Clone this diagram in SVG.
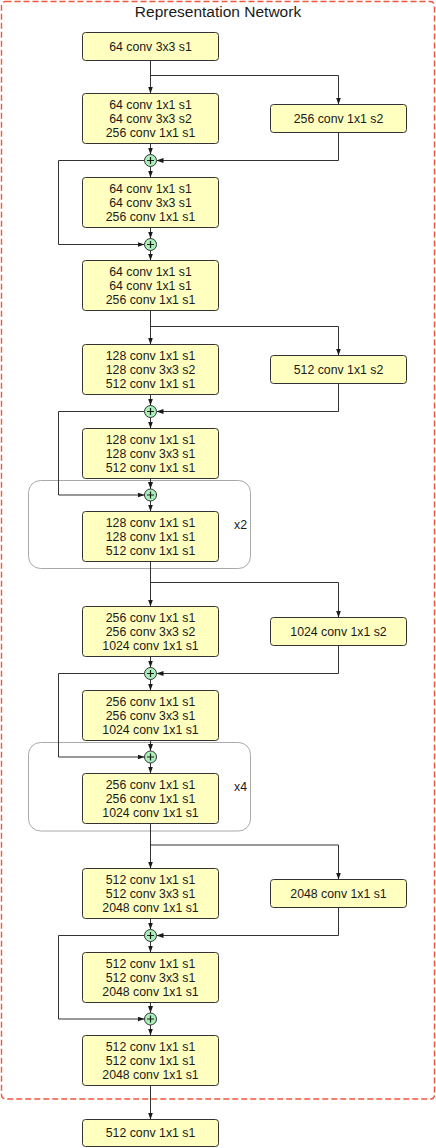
<svg xmlns="http://www.w3.org/2000/svg" width="436" height="1148" viewBox="0 0 436 1148">
<style>
.box{fill:#ffffbf;stroke:#333;stroke-width:1}
.t{font-family:"Liberation Sans",Arial,sans-serif;font-size:12.3px;fill:#1a1a1a;text-anchor:middle}
.c{fill:none;stroke:#333;stroke-width:1}
.a{marker-end:url(#ah)}
.plus circle{fill:#a8f0b8;stroke:#333;stroke-width:1}
.plus path{stroke:#1a1a1a;stroke-width:1.2;fill:none}
.rep{fill:none;stroke:#aaa;stroke-width:1}
</style>
<defs>
<marker id="ah" viewBox="0 0 7 5" refX="7" refY="2.5" markerWidth="7" markerHeight="5" markerUnits="userSpaceOnUse" orient="auto">
<path d="M0,0 L7,2.5 L0,5 z" fill="#1a1a1a"/>
</marker>
</defs>
<rect x="1.5" y="1.5" width="433" height="1097.5" rx="4" fill="none" stroke="#f4553b" stroke-width="1.4" stroke-dasharray="6 3"/>
<text x="218" y="16.5" style="font-family:'Liberation Sans',Arial,sans-serif;font-size:15.5px;fill:#1a1a1a;text-anchor:middle">Representation Network</text>

<g id="repeat-x2"><rect class="rep" x="28.5" y="480.5" width="222" height="88" rx="12"/><text class="t" x="240.5" y="529">x2</text></g>
<g id="repeat-x4"><rect class="rep" x="28.5" y="742.5" width="222" height="88.5" rx="12"/><text class="t" x="240.5" y="791">x4</text></g>

<g id="connectors">
<path class="c a" d="M150.5 60.5V93.5"/>
<path class="c a" d="M150.5 75.5H338.5V104.5"/>
<path class="c a" d="M150.5 143.5V154.5"/>
<path class="c a" d="M338.5 132.5V160.5H156.5"/>
<path class="c a" d="M150.5 166.5V177.5"/>
<path class="c a" d="M144.5 160.5H58.5V244.5H144.5"/>
<path class="c a" d="M150.5 227.5V238.5"/>
<path class="c a" d="M150.5 250.5V260.5"/>
<path class="c a" d="M150.5 310.5V344.5"/>
<path class="c a" d="M150.5 326.5H338.5V355.5"/>
<path class="c a" d="M150.5 394.5V405.5"/>
<path class="c a" d="M338.5 383.5V411.5H156.5"/>
<path class="c a" d="M150.5 417.5V428.5"/>
<path class="c a" d="M144.5 411.5H58.5V495H144.5"/>
<path class="c a" d="M150.5 478.5V489"/>
<path class="c a" d="M150.5 501V511.5"/>
<path class="c a" d="M150.5 561.5V606.5"/>
<path class="c a" d="M150.5 582.5H338.5V617.5"/>
<path class="c a" d="M150.5 656.5V667.5"/>
<path class="c a" d="M338.5 645.5V673.5H156.5"/>
<path class="c a" d="M150.5 679.5V690.5"/>
<path class="c a" d="M144.5 673.5H58.5V757H144.5"/>
<path class="c a" d="M150.5 740.5V751"/>
<path class="c a" d="M150.5 763V773.5"/>
<path class="c a" d="M150.5 823.5V868.5"/>
<path class="c a" d="M150.5 845H338.5V879.5"/>
<path class="c a" d="M150.5 918.5V929.5"/>
<path class="c a" d="M338.5 907.5V935.5H156.5"/>
<path class="c a" d="M150.5 941.5V952.5"/>
<path class="c a" d="M144.5 935.5H58.5V1019H144.5"/>
<path class="c a" d="M150.5 1002.5V1013"/>
<path class="c a" d="M150.5 1025V1035.5"/>
<path class="c a" d="M150.5 1085.5V1119.5"/>
</g>

<g id="b1"><rect class="box" x="82.5" y="32.5" width="136" height="28" rx="3"/><text class="t" x="150.5" y="50.8">64 conv 3x3 s1</text></g>
<g id="b2"><rect class="box" x="82.5" y="93.5" width="136" height="50" rx="3"/><text class="t" x="150.5" y="108.8">64 conv 1x1 s1</text><text class="t" x="150.5" y="122.8">64 conv 3x3 s2</text><text class="t" x="150.5" y="136.8">256 conv 1x1 s1</text></g>
<g id="s1"><rect class="box" x="270.5" y="104.5" width="136" height="28" rx="3"/><text class="t" x="338.5" y="122.8">256 conv 1x1 s2</text></g>
<g id="p1" class="plus"><circle cx="150.5" cy="160.5" r="6"/><path d="M147 160.5H154M150.5 157V164"/></g>
<g id="b3"><rect class="box" x="82.5" y="177.5" width="136" height="50" rx="3"/><text class="t" x="150.5" y="192.8">64 conv 1x1 s1</text><text class="t" x="150.5" y="206.8">64 conv 3x3 s1</text><text class="t" x="150.5" y="220.8">256 conv 1x1 s1</text></g>
<g id="p2" class="plus"><circle cx="150.5" cy="244.5" r="6"/><path d="M147 244.5H154M150.5 241V248"/></g>
<g id="b4"><rect class="box" x="82.5" y="260.5" width="136" height="50" rx="3"/><text class="t" x="150.5" y="275.8">64 conv 1x1 s1</text><text class="t" x="150.5" y="289.8">64 conv 1x1 s1</text><text class="t" x="150.5" y="303.8">256 conv 1x1 s1</text></g>
<g id="b5"><rect class="box" x="82.5" y="344.5" width="136" height="50" rx="3"/><text class="t" x="150.5" y="359.8">128 conv 1x1 s1</text><text class="t" x="150.5" y="373.8">128 conv 3x3 s2</text><text class="t" x="150.5" y="387.8">512 conv 1x1 s1</text></g>
<g id="s2"><rect class="box" x="270.5" y="355.5" width="136" height="28" rx="3"/><text class="t" x="338.5" y="373.8">512 conv 1x1 s2</text></g>
<g id="p3" class="plus"><circle cx="150.5" cy="411.5" r="6"/><path d="M147 411.5H154M150.5 408V415"/></g>
<g id="b6"><rect class="box" x="82.5" y="428.5" width="136" height="50" rx="3"/><text class="t" x="150.5" y="443.8">128 conv 1x1 s1</text><text class="t" x="150.5" y="457.8">128 conv 3x3 s1</text><text class="t" x="150.5" y="471.8">512 conv 1x1 s1</text></g>
<g id="p4" class="plus"><circle cx="150.5" cy="495" r="6"/><path d="M147 495H154M150.5 491.5V498.5"/></g>
<g id="b7"><rect class="box" x="82.5" y="511.5" width="136" height="50" rx="3"/><text class="t" x="150.5" y="526.8">128 conv 1x1 s1</text><text class="t" x="150.5" y="540.8">128 conv 1x1 s1</text><text class="t" x="150.5" y="554.8">512 conv 1x1 s1</text></g>
<g id="b8"><rect class="box" x="82.5" y="606.5" width="136" height="50" rx="3"/><text class="t" x="150.5" y="621.8">256 conv 1x1 s1</text><text class="t" x="150.5" y="635.8">256 conv 3x3 s2</text><text class="t" x="150.5" y="649.8">1024 conv 1x1 s1</text></g>
<g id="s3"><rect class="box" x="270.5" y="617.5" width="136" height="28" rx="3"/><text class="t" x="338.5" y="635.8">1024 conv 1x1 s2</text></g>
<g id="p5" class="plus"><circle cx="150.5" cy="673.5" r="6"/><path d="M147 673.5H154M150.5 670V677"/></g>
<g id="b9"><rect class="box" x="82.5" y="690.5" width="136" height="50" rx="3"/><text class="t" x="150.5" y="705.8">256 conv 1x1 s1</text><text class="t" x="150.5" y="719.8">256 conv 3x3 s1</text><text class="t" x="150.5" y="733.8">1024 conv 1x1 s1</text></g>
<g id="p6" class="plus"><circle cx="150.5" cy="757" r="6"/><path d="M147 757H154M150.5 753.5V760.5"/></g>
<g id="b10"><rect class="box" x="82.5" y="773.5" width="136" height="50" rx="3"/><text class="t" x="150.5" y="788.8">256 conv 1x1 s1</text><text class="t" x="150.5" y="802.8">256 conv 1x1 s1</text><text class="t" x="150.5" y="816.8">1024 conv 1x1 s1</text></g>
<g id="b11"><rect class="box" x="82.5" y="868.5" width="136" height="50" rx="3"/><text class="t" x="150.5" y="883.8">512 conv 1x1 s1</text><text class="t" x="150.5" y="897.8">512 conv 3x3 s1</text><text class="t" x="150.5" y="911.8">2048 conv 1x1 s1</text></g>
<g id="s4"><rect class="box" x="270.5" y="879.5" width="136" height="28" rx="3"/><text class="t" x="338.5" y="897.8">2048 conv 1x1 s1</text></g>
<g id="p7" class="plus"><circle cx="150.5" cy="935.5" r="6"/><path d="M147 935.5H154M150.5 932V939"/></g>
<g id="b12"><rect class="box" x="82.5" y="952.5" width="136" height="50" rx="3"/><text class="t" x="150.5" y="967.8">512 conv 1x1 s1</text><text class="t" x="150.5" y="981.8">512 conv 3x3 s1</text><text class="t" x="150.5" y="995.8">2048 conv 1x1 s1</text></g>
<g id="p8" class="plus"><circle cx="150.5" cy="1019" r="6"/><path d="M147 1019H154M150.5 1015.5V1022.5"/></g>
<g id="b13"><rect class="box" x="82.5" y="1035.5" width="136" height="50" rx="3"/><text class="t" x="150.5" y="1050.8">512 conv 1x1 s1</text><text class="t" x="150.5" y="1064.8">512 conv 1x1 s1</text><text class="t" x="150.5" y="1078.8">2048 conv 1x1 s1</text></g>
<g id="b14"><rect class="box" x="82.5" y="1119.5" width="136" height="27" rx="3"/><text class="t" x="150.5" y="1137.3">512 conv 1x1 s1</text></g>
</svg>
